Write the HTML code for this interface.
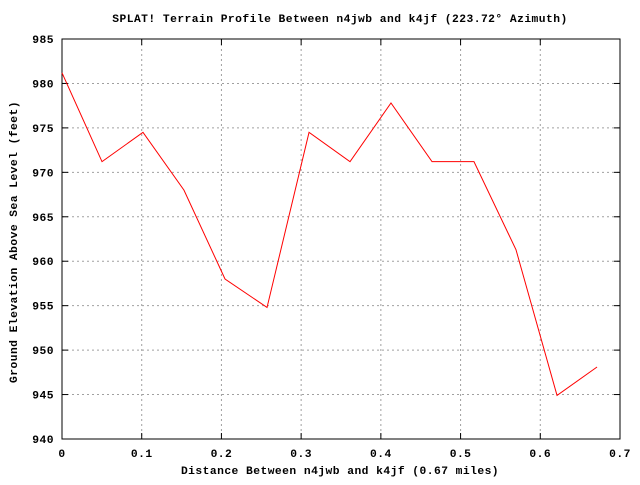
<!DOCTYPE html>
<html><head><meta charset="utf-8"><style>
html,body{margin:0;padding:0;background:#fff;}
svg text{font-family:"Liberation Mono",monospace;font-weight:bold;font-size:11.3px;letter-spacing:0.45px;fill:#000;}
</style></head><body>
<svg id="chart" width="640" height="480" xmlns="http://www.w3.org/2000/svg"></svg>
<script>
const distances=[0,0.0502,0.1016,0.1530,0.2045,0.2572,0.3099,0.3613,0.4127,0.4642,0.5168,0.5695,0.621,0.6712];
const elevations=[981.2,971.2,974.5,968.0,958.0,954.8,974.5,971.2,977.8,971.2,971.2,961.3,944.9,948.1];
const xTicks=[0,0.1,0.2,0.3,0.4,0.5,0.6,0.7];
const xTickLabels=["0","0.1","0.2","0.3","0.4","0.5","0.6","0.7"];
const yTicks=[940,945,950,955,960,965,970,975,980,985];
const L=62,R=620,T=39,B=439;
const xs=v=>L+(v-0)/(0.7)*(R-L);
const ys=v=>B-(v-940)/(45)*(B-T);
const svg=document.getElementById('chart');
const NS='http://www.w3.org/2000/svg';
function mk(tag,attrs,name,text){const e=document.createElementNS(NS,tag);for(const k in attrs)e.setAttribute(k,attrs[k]);


if(text!==undefined)e.textContent=text;svg.appendChild(e);return e;}
xTicks.forEach((t,i)=>{const x=xs(t);
if(i>0&&i<xTicks.length-1)mk('line',{x1:x,y1:T,x2:x,y2:B,stroke:'#a0a0a0','stroke-dasharray':'2,3'},'x-grid-line');
mk('line',{x1:x,y1:B,x2:x,y2:B-6,stroke:'#000'},'x-tick');
mk('line',{x1:x,y1:T,x2:x,y2:T+6,stroke:'#000'},'x-tick-top');
mk('text',{x:x,y:B+18,'text-anchor':'middle'},'x-tick-label',xTickLabels[i]);});
yTicks.forEach((t,i)=>{const y=ys(t);
if(i>0&&i<yTicks.length-1)mk('line',{x1:L,y1:y,x2:R,y2:y,stroke:'#a0a0a0','stroke-dasharray':'2,3'},'y-grid-line');
mk('line',{x1:L,y1:y,x2:L+6,y2:y,stroke:'#000'},'y-tick');
mk('line',{x1:R,y1:y,x2:R-6,y2:y,stroke:'#000'},'y-tick-right');
mk('text',{x:L-8,y:y+4,'text-anchor':'end'},'y-tick-label',String(t));});
mk('rect',{x:L,y:T,width:R-L,height:B-T,fill:'none',stroke:'#000'},'plot-border');
mk('polyline',{points:distances.map((d,i)=>xs(d)+','+ys(elevations[i])).join(' '),fill:'none',stroke:'#ff0000','stroke-width':1},'terrain-line');
mk('text',{x:340,y:22,'text-anchor':'middle'},'chart-title','SPLAT! Terrain Profile Between n4jwb and k4jf (223.72° Azimuth)');
mk('text',{x:340,y:474,'text-anchor':'middle'},'x-axis-title','Distance Between n4jwb and k4jf (0.67 miles)');
mk('text',{x:17,y:242,'text-anchor':'middle',transform:'rotate(-90 17 242)'},'y-axis-title','Ground Elevation Above Sea Level (feet)');
</script>
</body></html>
